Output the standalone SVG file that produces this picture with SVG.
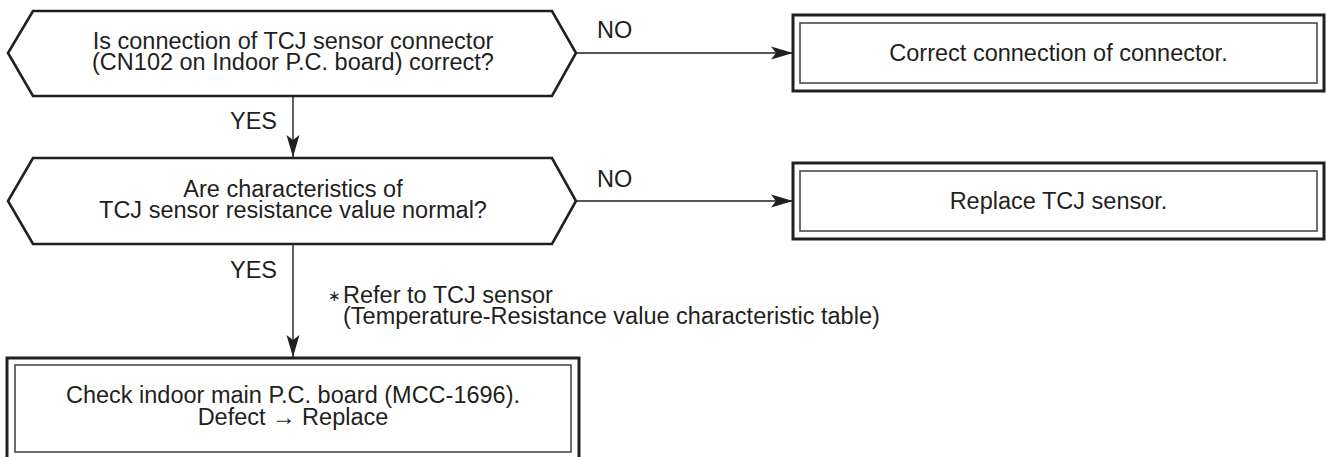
<svg xmlns="http://www.w3.org/2000/svg" width="1326" height="457" viewBox="0 0 1326 457">
<style>
text{font-family:"Liberation Sans",Arial,sans-serif;font-size:23.5px;fill:#231f20}
.c{text-anchor:middle}
.ast{font-family:"DejaVu Sans",sans-serif;font-size:15px}
.dec{fill:#fff;stroke:#231f20;stroke-width:2.6;stroke-linejoin:miter}
.outer{fill:#fff;stroke:#231f20;stroke-width:3}
.inner{fill:none;stroke:#4a4a4a;stroke-width:1.6}
.ln{stroke:#231f20;stroke-width:1.4;fill:none}
</style>
<defs>
<marker id="ah" markerUnits="userSpaceOnUse" markerWidth="24" markerHeight="14" refX="22" refY="7" orient="auto" viewBox="0 0 24 14">
<path d="M0,0.5 L22,7 L0,13.5 L5,7 Z" fill="#231f20"/>
</marker>
</defs>
<g id="connectors">
<line class="ln" x1="576" y1="53" x2="793" y2="53" marker-end="url(#ah)"/>
<line class="ln" x1="576" y1="201" x2="793" y2="201" marker-end="url(#ah)"/>
<line class="ln" x1="293" y1="96" x2="293" y2="157" marker-end="url(#ah)"/>
<line class="ln" x1="293" y1="244" x2="293" y2="357" marker-end="url(#ah)"/>
<text x="277" y="129" text-anchor="end">YES</text>
<text x="277" y="278" text-anchor="end">YES</text>
<text x="597" y="38">NO</text>
<text x="597" y="187">NO</text>
</g>
<g id="d1">
<polygon class="dec" points="33,11 552,11 576,53 552,96 33,96 8,53"/>
<text class="c" x="293" y="49">Is connection of TCJ sensor connector</text>
<text class="c" x="293" y="70">(CN102 on Indoor P.C. board) correct?</text>
</g>
<g id="b1">
<rect class="outer" x="793" y="15" width="531" height="76"/>
<rect class="inner" x="800" y="23" width="517" height="60"/>
<text class="c" x="1058.5" y="61">Correct connection of connector.</text>
</g>
<g id="d2">
<polygon class="dec" points="33,158 552,158 576,201 552,244 33,244 8,201"/>
<text class="c" x="293" y="197">Are characteristics of</text>
<text class="c" x="293" y="218">TCJ sensor resistance value normal?</text>
</g>
<g id="b2">
<rect class="outer" x="793" y="163" width="531" height="76"/>
<rect class="inner" x="800" y="171" width="517" height="60"/>
<text class="c" x="1058.5" y="209">Replace TCJ sensor.</text>
</g>
<g id="note">
<text class="ast" x="328" y="301">∗</text>
<text x="343" y="303">Refer to TCJ sensor</text>
<text x="343" y="324">(Temperature-Resistance value characteristic table)</text>
</g>
<g id="b3">
<rect class="outer" x="7" y="358" width="572" height="102"/>
<rect class="inner" x="15" y="365" width="556" height="87"/>
<text class="c" x="293" y="403">Check indoor main P.C. board (MCC-1696).</text>
<text class="c" x="293" y="425">Defect → Replace</text>
</g>
</svg>
